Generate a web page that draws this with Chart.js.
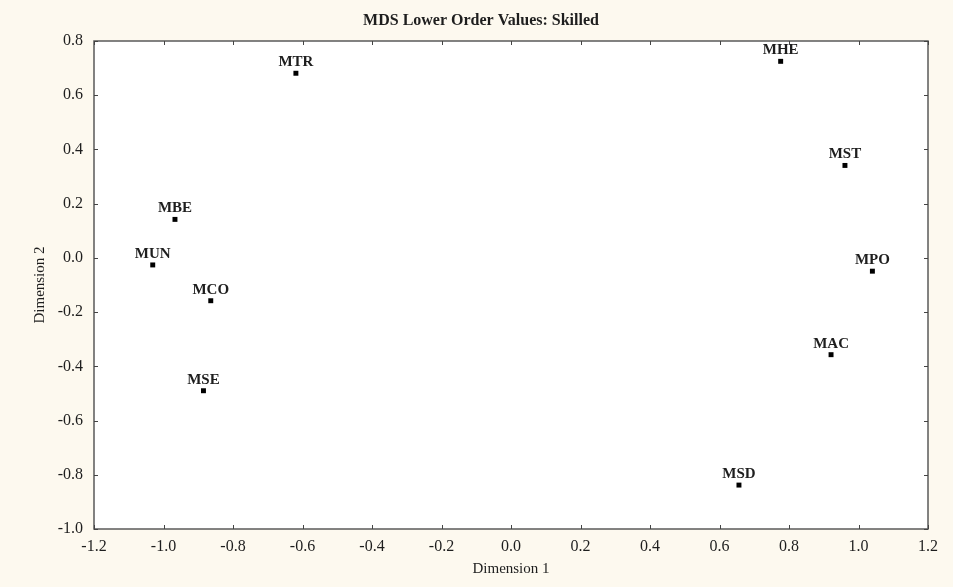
<!DOCTYPE html>
<html><head><meta charset="utf-8">
<script src="https://cdn.jsdelivr.net/npm/chart.js@4.4.0/dist/chart.umd.min.js"></script>
<style>html,body{margin:0;padding:0;background:#fdf9ef;overflow:hidden}#wrap{width:953px;height:587px}</style>
</head><body><div id="wrap"><canvas id="c" width="953" height="587"></canvas></div>
<script>
const pointNames = ['MTR','MHE','MST','MBE','MUN','MCO','MPO','MAC','MSE','MSD'];
const dimension1 = [-0.619, 0.776, 0.961, -0.967, -1.031, -0.864, 1.040, 0.921, -0.885, 0.656];
const dimension2 = [0.681, 0.725, 0.341, 0.142, -0.026, -0.158, -0.049, -0.357, -0.490, -0.838];
const xTickValues = [-1.2, -1.0, -0.8, -0.6, -0.4, -0.2, 0.0, 0.2, 0.4, 0.6, 0.8, 1.0, 1.2];
const yTickValues = [-1.0, -0.8, -0.6, -0.4, -0.2, 0.0, 0.2, 0.4, 0.6, 0.8];

const SERIF = '"Liberation Serif", "Times New Roman", serif';
const BG = '#fdf9ef';
const FRAME = '#5a5a5a';
const TEXT = '#1e1e1e';

const points = dimension1.map((x, i) => ({x: x, y: dimension2[i], name: pointNames[i]}));

const decor = {
  id: 'decor',
  beforeDraw(chart) {
    const {ctx, chartArea: a} = chart;
    ctx.save();
    ctx.fillStyle = BG;
    ctx.fillRect(0, 0, chart.width, chart.height);
    ctx.fillStyle = '#ffffff';
    ctx.fillRect(a.left, a.top, a.right - a.left, a.bottom - a.top);
    ctx.restore();
  },
  afterDatasetsDraw(chart) {
    const {ctx} = chart;
    const meta = chart.getDatasetMeta(0);
    ctx.save();
    ctx.font = 'bold 15px ' + SERIF;
    ctx.fillStyle = TEXT;
    ctx.textAlign = 'center';
    ctx.textBaseline = 'alphabetic';
    meta.data.forEach((el, i) => {
      ctx.fillText(points[i].name, el.x, el.y - 7);
    });
    ctx.restore();
  },
  afterDraw(chart) {
    const {ctx, chartArea: a, scales} = chart;
    ctx.save();
    ctx.strokeStyle = FRAME;
    ctx.lineWidth = 1.5;
    ctx.strokeRect(a.left, a.top, a.right - a.left, a.bottom - a.top);
    ctx.lineWidth = 1;
    ctx.strokeStyle = '#444';
    const L = 4;
    xTickValues.forEach(v => {
      const px = Math.round(scales.x.getPixelForValue(v)) + 0.5;
      ctx.beginPath();
      ctx.moveTo(px, a.bottom); ctx.lineTo(px, a.bottom - L);
      ctx.moveTo(px, a.top); ctx.lineTo(px, a.top + L);
      ctx.stroke();
    });
    yTickValues.forEach(v => {
      const py = Math.round(scales.y.getPixelForValue(v)) + 0.5;
      ctx.beginPath();
      ctx.moveTo(a.left, py); ctx.lineTo(a.left + L, py);
      ctx.moveTo(a.right, py); ctx.lineTo(a.right - L, py);
      ctx.stroke();
    });
    ctx.restore();
  }
};

new Chart(document.getElementById('c'), {
  type: 'scatter',
  data: {
    datasets: [{
      data: points,
      pointStyle: 'rect',
      pointRadius: 3.5,
      pointHoverRadius: 3.5,
      backgroundColor: '#000',
      borderWidth: 0
    }]
  },
  options: {
    responsive: false,
    devicePixelRatio: 1,
    animation: false,
    events: [],
    layout: {padding: {left: 34, right: 25, top: 0, bottom: 0}},
    plugins: {
      legend: {display: false},
      tooltip: {enabled: false},
      title: {
        display: true,
        text: 'MDS Lower Order Values: Skilled',
        color: TEXT,
        font: {family: SERIF, size: 16, weight: 'bold'},
        padding: {top: 11, bottom: 10.8}
      }
    },
    scales: {
      x: {
        type: 'linear',
        min: -1.2, max: 1.2,
        afterBuildTicks: s => { s.ticks = xTickValues.map(v => ({value: v})); },
        afterFit: s => { s.height = 58; },
        grid: {display: false, drawTicks: false},
        border: {display: false},
        ticks: {
          color: TEXT, padding: 8,
          font: {family: SERIF, size: 16},
          maxRotation: 0, autoSkip: false,
          callback: v => v.toFixed(1)
        },
        title: {
          display: true, text: 'Dimension 1', color: TEXT,
          font: {family: SERIF, size: 15},
          padding: {top: 0, bottom: 9}
        }
      },
      y: {
        type: 'linear',
        min: -1.0, max: 0.8,
        afterBuildTicks: s => { s.ticks = yTickValues.map(v => ({value: v})); },
        afterFit: s => { s.width = 60; },
        grid: {display: false, drawTicks: false},
        border: {display: false},
        ticks: {
          color: TEXT, padding: 11,
          font: {family: SERIF, size: 16},
          autoSkip: false,
          callback: v => v.toFixed(1)
        },
        title: {
          display: true, text: 'Dimension 2', color: TEXT,
          font: {family: SERIF, size: 15},
          padding: {top: -3, bottom: 0}
        }
      }
    }
  },
  plugins: [decor]
});
</script>
</body></html>
